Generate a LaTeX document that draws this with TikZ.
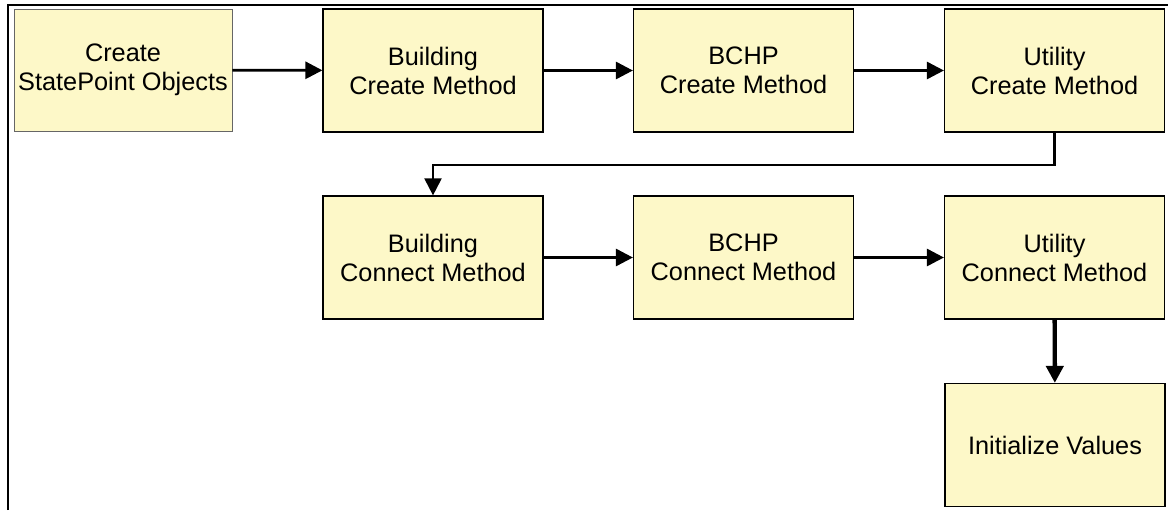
\documentclass[tikz,border=0pt]{standalone}
\usepackage{fontspec}
\setmainfont{Liberation Sans}
\usepackage{xcolor}
\usetikzlibrary{arrows.meta, positioning}
\definecolor{boxfill}{RGB}{253,248,200}

\begin{document}
\begin{tikzpicture}[x=0.02cm, y=-0.02cm,
  box/.style={draw, line width=0.7pt, rectangle, minimum width=4.4cm, minimum height=2.46cm, fill=boxfill, align=center, inner sep=0pt, font=\fontsize{14.4}{16.5}\selectfont},
  flow/.style={-{Triangle[length=0.34cm, width=0.34cm]}, line width=1.6pt}]
\useasboundingbox (0,0) rectangle (1168,510);
% Outer frame
\draw[line width=1.1pt] (8,510) -- (8,5) -- (1168,5);

% Create row
\node[box, draw=black!60, line width=0.5pt, minimum width=4.36cm, minimum height=2.44cm] (sp) at (123,70) {Create\\StatePoint Objects};
\node[box] (bcreate) at (433,70.5) {Building\\Create Method};
\node[box] (hcreate) at (743.5,70.5) {BCHP\\Create Method};
\node[box] (ucreate) at (1054.5,70.5) {Utility\\Create Method};

% Connect row
\node[box] (bconnect) at (433,257.5) {Building\\Connect Method};
\node[box] (hconnect) at (743.5,257.5) {BCHP\\Connect Method};
\node[box] (uconnect) at (1054.5,257.5) {Utility\\Connect Method};

% Last step
\node[box] (init) at (1055,445) {Initialize Values};

\draw[flow] (sp) -- (bcreate);
\draw[flow] (bcreate) -- (hcreate);
\draw[flow] (hcreate) -- (ucreate);
\draw[flow, line width=1.2pt] (ucreate.south) -- ++(0,32) -| (bconnect.north);
\draw[flow] (bconnect) -- (hconnect);
\draw[flow] (hconnect) -- (uconnect);
\draw[flow, line width=2.5pt] (uconnect) -- (init);
\end{tikzpicture}
\end{document}
